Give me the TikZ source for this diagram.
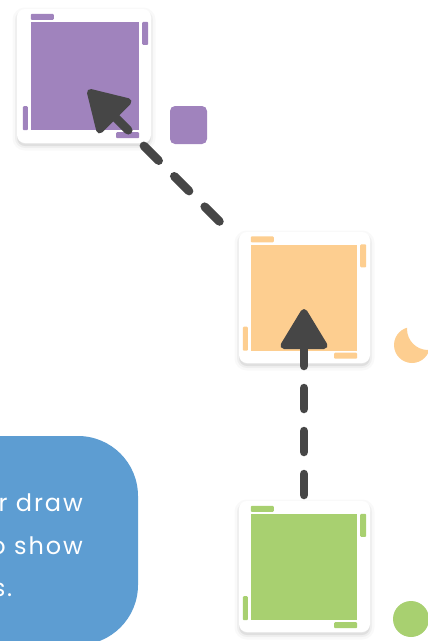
\documentclass[tikz,border=0pt]{standalone}
\usepackage{fontspec}
\setmainfont{Poppins}
\newfontfamily\boxfont[LetterSpace=8]{Poppins}
\usetikzlibrary{calc}
\definecolor{cpurple}{RGB}{160,131,189}
\definecolor{corange}{RGB}{253,206,144}
\definecolor{cgreen}{RGB}{168,208,112}
\definecolor{cblue}{RGB}{93,157,210}
\definecolor{cdark}{RGB}{70,70,70}
\tikzset{
  cardbox/.style={fill=white, rounded corners=8pt, minimum width=132pt, minimum height=132pt, inner sep=0pt,
    preaction={fill=black, opacity=0.07, transform canvas={yshift=-3pt}},
    preaction={draw=black, opacity=0.04, line width=4pt, transform canvas={yshift=-3pt}},
    preaction={draw=black, opacity=0.025, line width=9pt, transform canvas={yshift=-3pt}}},
  innerbox/.style={minimum size=106pt, inner sep=0pt},
  connector/.style={draw=cdark, line width=8.5pt, line cap=round, dash pattern=on 21pt off 22pt, shorten >=20pt},
  headstyle/.style={fill=cdark, draw=cdark, line width=7pt, line join=round},
  btext/.style={text=white, font=\boxfont\fontsize{24}{24}\selectfont, anchor=base east, inner sep=0pt},
  pics/ahead/.style={code={\filldraw[headstyle] (-3.5,0) -- (-36.5,20) -- (-36.5,-20) -- cycle;}}
}
\newcommand{\cardbars}[2]{%
  \fill[#2, rounded corners=1pt] ([shift={(0,-8)}]#1.north west) rectangle ([shift={(23,-2)}]#1.north west);
  \fill[#2, rounded corners=1pt] ([shift={(3,0)}]#1.north east) rectangle ([shift={(9,23)}]#1.north east);
  \fill[#2, rounded corners=1pt] ([shift={(-8,-24)}]#1.south west) rectangle ([shift={(-3,0)}]#1.south west);
  \fill[#2, rounded corners=1pt] ([shift={(-23,2)}]#1.south east) rectangle ([shift={(0,8)}]#1.south east);
}
\begin{document}
\begin{tikzpicture}[x=1pt,y=-1pt]
\useasboundingbox (0,0) rectangle (428,641);
\clip (0,0) rectangle (428,641);
% blue text box
\node[fill=cblue, rounded corners=60pt, minimum width=218pt, minimum height=209pt, inner sep=0pt] (blue) at (29,540.5) {};
\node[btext] (t1) at (83,511) {r draw};
\node[btext] (t2) at (83,554) {o show};
\node[btext] (t3) at (12.5,596) {s.};
% decorations
\node[fill=cpurple, rounded corners=5pt, minimum width=37pt, minimum height=38pt, inner sep=0pt] (psq) at (188.5,125) {};
\node[fill=cgreen, circle, minimum size=36pt, inner sep=0pt] (gdot) at (411,619) {};
\begin{scope}[even odd rule]
  \clip (380,300) rectangle (440,380) (428,329) circle (21);
  \fill[corange] (412,345) circle (18);
\end{scope}
% cards
\node[cardbox, minimum width=134pt, minimum height=134pt] (pcard) at (84,76) {};
\node[cardbox, minimum width=131pt, minimum height=131pt] (ocard) at (304.5,297.5) {};
\node[cardbox, minimum width=131pt, minimum height=131pt] (gcard) at (304.5,566.5) {};
\node[innerbox, fill=cpurple, minimum size=108pt] (pin) at (85,76) {};
\node[innerbox, fill=corange] (oin) at (304,297.5) {};
\node[innerbox, fill=cgreen] (gin) at (304,567) {};
\cardbars{pin}{cpurple}
\cardbars{oin}{corange}
\cardbars{gin}{cgreen}
% connectors
\coordinate (gstart) at (304,495);
\coordinate (otip) at (304,309);
\coordinate (ostart) at (219.5,221.5);
\coordinate (ptip) at (88,90);
\draw[connector] (gstart) -- (otip);
\pic[rotate=90] at (otip) {ahead};
\draw[connector] (ostart) -- (ptip);
\pic[rotate=135] at (ptip) {ahead};
\end{tikzpicture}
\end{document}
